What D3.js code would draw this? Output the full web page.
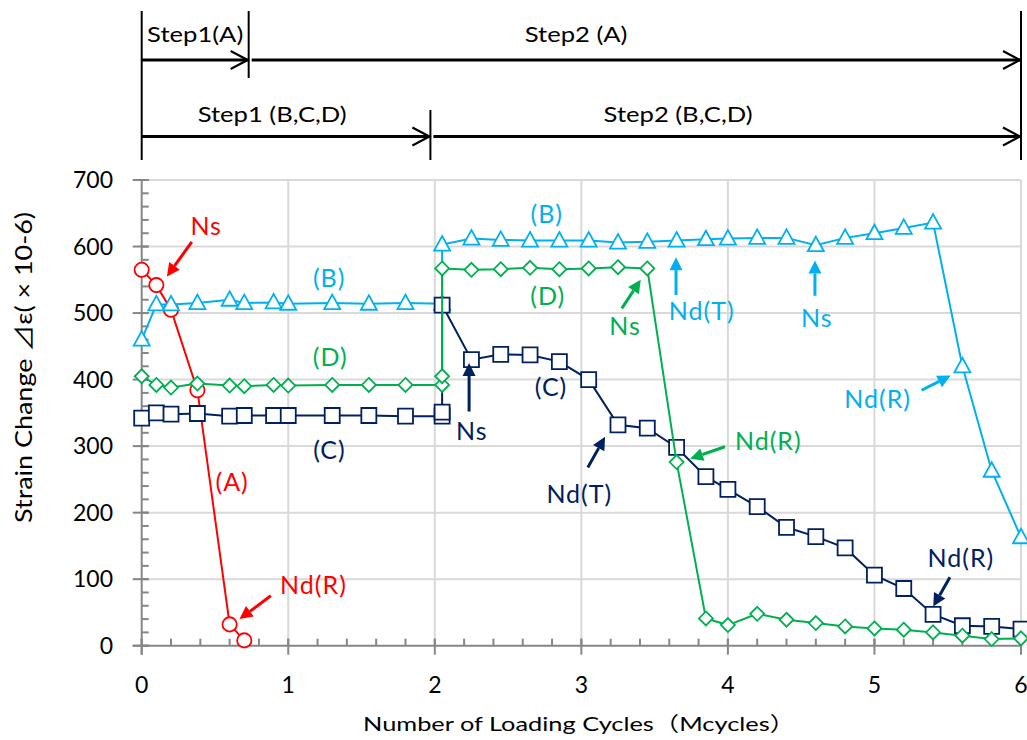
<!DOCTYPE html>
<html>
<head>
<meta charset="utf-8">
<script src="https://cdn.jsdelivr.net/npm/d3@7"></script>
<style>
  body { margin: 0; background: #fff; }
  text { font-family: Lato, "Noto Sans CJK JP", sans-serif; }
</style>
</head>
<body>
<div id="chart"></div>
<script>
// data (x in Mcycles, y in strain x10-6)
const xA = [0, 0.1, 0.2, 0.38, 0.6, 0.7]
const yA = [565, 542, 505, 384, 32, 8]

const xB = [0, 0.1, 0.2, 0.38, 0.6, 0.7, 0.9, 1.0, 1.3, 1.55, 1.8, 2.05,
            2.05, 2.25, 2.45, 2.65, 2.85, 3.05, 3.25, 3.45, 3.65, 3.85, 4.0,
            4.2, 4.4, 4.6, 4.8, 5.0, 5.2, 5.4, 5.6, 5.8, 6.0]
const yB = [460, 513, 513, 515, 520, 515, 516, 514, 515, 514, 515, 514,
            603, 612, 610, 609, 609, 609, 606, 607, 609, 611, 612,
            613, 613, 602, 613, 620, 628, 636, 420, 263, 163]

const xC = [0, 0.1, 0.2, 0.38, 0.6, 0.7, 0.9, 1.0, 1.3, 1.55, 1.8, 2.05, 2.05,
            2.05, 2.25, 2.45, 2.65, 2.85, 3.05, 3.25, 3.45, 3.65, 3.85, 4.0,
            4.2, 4.4, 4.6, 4.8, 5.0, 5.2, 5.4, 5.6, 5.8, 6.0]
const yC = [342, 350, 348, 349, 345, 346, 346, 346, 346, 346, 345, 345, 351,
            512, 430, 438, 437, 427, 400, 332, 327, 298, 254, 235,
            209, 178, 164, 147, 106, 86, 47, 30, 29, 25]

const xD = [0, 0.1, 0.2, 0.38, 0.6, 0.7, 0.9, 1.0, 1.3, 1.55, 1.8, 2.05, 2.05,
            2.05, 2.25, 2.45, 2.65, 2.85, 3.05, 3.25, 3.45, 3.65, 3.85, 4.0,
            4.2, 4.4, 4.6, 4.8, 5.0, 5.2, 5.4, 5.6, 5.8, 6.0]
const yD = [405, 392, 388, 394, 391, 390, 392, 391, 392, 392, 392, 392, 405,
            567, 565, 566, 568, 566, 567, 569, 567, 276, 41, 31,
            48, 39, 34, 29, 26, 24, 20, 15, 10, 11]

const xTicks = [0, 1, 2, 3, 4, 5, 6]
const yTicks = [0, 100, 200, 300, 400, 500, 600, 700]

// text labels: [text, colour key, x, y]
const labels = [
  ["Ns", "A", 0.44, 630], ["(A)", "A", 0.617, 246], ["Nd(R)", "A", 1.172, 91],
  ["(B)", "B", 1.279, 553], ["(B)", "B", 2.764, 648],
  ["(D)", "D", 1.286, 433], ["(D)", "D", 2.771, 526],
  ["(C)", "C", 1.281, 294], ["(C)", "C", 2.793, 388],
  ["Ns", "C", 2.252, 322], ["Ns", "D", 3.298, 480], ["Nd(T)", "B", 3.821, 502],
  ["Ns", "B", 4.606, 492], ["Nd(R)", "D", 4.276, 307], ["Nd(R)", "B", 5.022, 370],
  ["Nd(T)", "C", 2.986, 227], ["Nd(R)", "C", 5.59, 131]
]
// arrows: [colour key, x1, y1, x2, y2] (tail -> head)
const arrows = [
  ["A", 0.342, 607, 0.172, 555], ["A", 0.881, 75, 0.667, 40],
  ["C", 2.234, 352, 2.234, 425], ["D", 3.276, 507, 3.405, 550],
  ["B", 3.646, 527, 3.646, 584], ["B", 4.594, 526, 4.594, 579],
  ["D", 3.98, 299, 3.742, 281], ["B", 5.322, 384, 5.52, 406],
  ["C", 3.044, 268, 3.162, 314], ["C", 5.515, 103, 5.401, 59]
]
// test steps: [label, start, end, row, label x]
const steps = [
  ["Step1(A)", 0, 0.73, 0, 0.365], ["Step2 (A)", 0.73, 6, 0, 2.964],
  ["Step1 (B,C,D)", 0, 1.97, 1, 0.89], ["Step2 (B,C,D)", 1.97, 6, 1, 3.66]
]

const colors = { A: "#ff0000", B: "#00b0f0", C: "#002060", D: "#00b050" }

const width = 1027, height = 740
const svg = d3.select("#chart").append("svg")
  .attr("width", width).attr("height", height)

const x = d3.scaleLinear().domain([0, 6]).range([141.7, 1021])
const y = d3.scaleLinear().domain([0, 700]).range([645.7, 180])

// gridlines
svg.append("g").selectAll("line").data(yTicks.slice(1)).join("line")
  .attr("x1", x(0)).attr("x2", x(6))
  .attr("y1", d => y(d)).attr("y2", d => y(d))
  .attr("stroke", "#d9d9d9").attr("stroke-width", 2)
svg.append("g").selectAll("line").data(xTicks.slice(1)).join("line")
  .attr("y1", y(0)).attr("y2", y(700))
  .attr("x1", d => x(d)).attr("x2", d => x(d))
  .attr("stroke", "#d9d9d9").attr("stroke-width", 2)

// axes
const axisColor = "#868686"
const yMinor = d3.range(0, 701, 20)
const xMinor = d3.range(0, 6.01, 0.2)
const yAx = svg.append("g")
yAx.selectAll(".mn").data(yMinor).join("line")
  .attr("x1", x(0)).attr("x2", x(0) + 7)
  .attr("y1", d => y(d)).attr("y2", d => y(d))
  .attr("stroke", axisColor).attr("stroke-width", 2)
yAx.selectAll(".mj").data(yTicks).join("line")
  .attr("x1", x(0) - 9).attr("x2", x(0) + 7)
  .attr("y1", d => y(d)).attr("y2", d => y(d))
  .attr("stroke", axisColor).attr("stroke-width", 2)
yAx.append("line").attr("x1", x(0)).attr("x2", x(0))
  .attr("y1", y(0) + 9).attr("y2", y(700))
  .attr("stroke", axisColor).attr("stroke-width", 2)
yAx.selectAll("text").data(yTicks).join("text")
  .attr("x", 113).attr("y", d => y(d)).attr("dy", "0.35em")
  .attr("text-anchor", "end").attr("font-size", 23).attr("fill", "#000")
  .text(d => d)

const xAx = svg.append("g")
xAx.selectAll(".mn").data(xMinor).join("line")
  .attr("x1", d => x(d)).attr("x2", d => x(d))
  .attr("y1", y(0)).attr("y2", y(0) - 7)
  .attr("stroke", axisColor).attr("stroke-width", 2)
xAx.selectAll(".mj").data(xTicks).join("line")
  .attr("x1", d => x(d)).attr("x2", d => x(d))
  .attr("y1", y(0) - 7).attr("y2", y(0) + 9)
  .attr("stroke", axisColor).attr("stroke-width", 2)
xAx.append("line").attr("x1", x(0) - 9).attr("x2", x(6))
  .attr("y1", y(0)).attr("y2", y(0))
  .attr("stroke", axisColor).attr("stroke-width", 2)
xAx.selectAll("text").data(xTicks).join("text")
  .attr("x", d => x(d)).attr("y", 685).attr("dy", "0.35em")
  .attr("text-anchor", "middle").attr("font-size", 23).attr("fill", "#000")
  .text(d => d)

// axis titles (stretched a little to the width of the original font)
svg.append("text")
  .attr("x", 363).attr("y", 731)
  .attr("font-size", 20)
  .attr("textLength", 432).attr("lengthAdjust", "spacingAndGlyphs")
  .text("Number of Loading Cycles（Mcycles）")
svg.append("text")
  .attr("transform", "translate(32,523) rotate(-90)")
  .attr("font-size", 23)
  .attr("textLength", 311).attr("lengthAdjust", "spacingAndGlyphs")
  .text("Strain Change  ⊿ε( × 10-6)")

// series lines and markers
const line = d3.line().x(d => x(d[0])).y(d => y(d[1]))
function drawSeries(key, xs, ys, shape) {
  const pts = xs.map((v, i) => [v, ys[i]])
  const g = svg.append("g")
  g.append("path").datum(pts).attr("d", line)
    .attr("fill", "none").attr("stroke", colors[key]).attr("stroke-width", 2)
  g.selectAll("path.m").data(pts).join("path").attr("class", "m")
    .attr("transform", d => "translate(" + x(d[0]) + "," + y(d[1]) + ")")
    .attr("d", shape)
    .attr("fill", "#fff").attr("stroke", colors[key]).attr("stroke-width", 1.8)
}
drawSeries("A", xA, yA, d3.symbol(d3.symbolCircle, 160)())
drawSeries("B", xB, yB, "M0,-8.5L8,6L-8,6Z")
drawSeries("C", xC, yC, "M-7.5,-7.5H7.5V7.5H-7.5Z")
drawSeries("D", xD, yD, "M0,-7L7,0L0,7L-7,0Z")

// annotation labels and arrows
svg.append("g").selectAll("text").data(labels).join("text")
  .attr("x", d => x(d[2])).attr("y", d => y(d[3])).attr("dy", "0.35em")
  .attr("text-anchor", "middle").attr("font-size", 25)
  .attr("letter-spacing", 1)
  .attr("fill", d => colors[d[1]])
  .text(d => d[0])

const ag = svg.append("g")
arrows.forEach(a => {
  const x1 = x(a[1]), y1 = y(a[2]), x2 = x(a[3]), y2 = y(a[4])
  const ang = Math.atan2(y2 - y1, x2 - x1)
  const L = 13, W = 6.5
  const bx = x2 - L * Math.cos(ang), by = y2 - L * Math.sin(ang)
  ag.append("line").attr("x1", x1).attr("y1", y1).attr("x2", bx).attr("y2", by)
    .attr("stroke", colors[a[0]]).attr("stroke-width", 3)
  ag.append("path")
    .attr("d", "M" + x2 + "," + y2 +
      "L" + (bx - W * Math.sin(ang)) + "," + (by + W * Math.cos(ang)) +
      "L" + (bx + W * Math.sin(ang)) + "," + (by - W * Math.cos(ang)) + "Z")
    .attr("fill", colors[a[0]])
})

// step diagram above the plot
const rowY = [60, 136.5]
const textY = [42, 122]
const sg = svg.append("g")
function vline(xv, y1, y2) {
  sg.append("line").attr("x1", x(xv)).attr("x2", x(xv)).attr("y1", y1).attr("y2", y2)
    .attr("stroke", "#000").attr("stroke-width", 2)
}
vline(0, 11, 160)
vline(6, 11, 160)
vline(0.73, 11, 78)
vline(1.97, 110, 160)
steps.forEach(s => {
  const yy = rowY[s[3]]
  const x1 = x(s[1]) + (s[1] > 0 ? 3 : 0), x2 = x(s[2]) - 1
  sg.append("line").attr("x1", x1).attr("x2", x2).attr("y1", yy).attr("y2", yy)
    .attr("stroke", "#000").attr("stroke-width", 3)
  sg.append("path")
    .attr("d", "M" + (x2 - 17) + "," + (yy - 9) + "L" + x2 + "," + yy + "L" + (x2 - 17) + "," + (yy + 9))
    .attr("fill", "none").attr("stroke", "#000").attr("stroke-width", 2.2)
  sg.append("text")
    .attr("transform", "translate(" + x(s[4]) + "," + textY[s[3]] + ") scale(1.22,1)")
    .attr("text-anchor", "middle").attr("font-size", 21)
    .text(s[0])
})
</script>
</body>
</html>
